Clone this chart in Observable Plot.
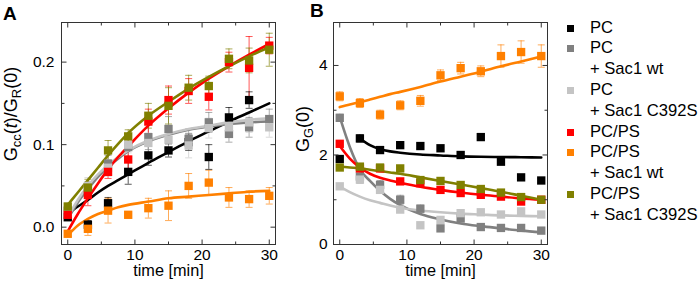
<!DOCTYPE html>
<html><head><meta charset="utf-8">
<script src="https://cdn.jsdelivr.net/npm/d3@7"></script>
<script src="https://cdn.jsdelivr.net/npm/@observablehq/plot@0.6"></script>
<style>
body{margin:0;background:#fff;}
#wrap{position:relative;width:699px;height:286px;font-family:'Liberation Sans',Arial,sans-serif;color:#000;overflow:hidden;background:#fff}
#wrap svg{position:absolute;top:0;overflow:visible}
.lbl{position:absolute;white-space:nowrap;line-height:1}
.ylab{transform:translate(-50%,-50%) rotate(-90deg);font-size:18px}
.ylab sub{font-size:72%;vertical-align:-0.3em;line-height:0}
.letter{position:absolute;font-weight:bold;font-size:19px}
#legend{position:absolute;left:566px;top:17.6px;font-size:16.6px;line-height:20.8px}
#legend .row{position:relative;padding-left:24px;height:20.8px}
#legend .sq{position:absolute;left:1px;top:7px;width:7px;height:7px}
</style></head><body><div id="wrap"></div><script>
// ---- data ----
const times = [0, 3, 6, 9, 12, 15, 18, 21, 24, 27, 30];
const fitT = [0, 1.5, 3, 4.5, 6, 7.5, 9, 12, 15, 18, 21, 24, 27, 30];
const seriesNames = ["PC", "PC + Sac1 wt", "PC + Sac1 C392S", "PC/PS", "PC/PS + Sac1 wt", "PC/PS + Sac1 C392S"];
const legendLines = [["PC"], ["PC", "+ Sac1 wt"], ["PC", "+ Sac1 C392S"], ["PC/PS"], ["PC/PS", "+ Sac1 wt"], ["PC/PS", "+ Sac1 C392S"]];
const seriesColors = ["#000000", "#808080", "#c4c4c4", "#ff0000", "#ff8000", "#808000"];

// Panel A: Gcc(t)/GR(0)
const aPC      = [0.012, 0.003, 0.029, 0.067, 0.087, 0.093, 0.103, 0.085, 0.133, 0.154, null];
const aPCwt    = [0.020, 0.045, 0.077, 0.097, 0.109, 0.119, 0.107, 0.127, 0.113, 0.121, 0.131];
const aPCmut   = [0.017, 0.050, 0.072, 0.100, 0.102, 0.106, 0.099, 0.120, 0.121, 0.127, 0.121];
const aPS      = [0.015, 0.039, 0.067, 0.082, 0.128, 0.154, 0.165, 0.158, 0.200, 0.193, 0.220];
const aPSwt    = [-0.008, -0.002, 0.020, 0.015, 0.023, 0.026, 0.050, 0.054, 0.036, 0.034, 0.038];
const aPSmut   = [0.025, 0.048, 0.093, 0.110, 0.135, 0.147, 0.169, 0.171, 0.204, 0.202, 0.215];
const aPCerr    = [0.003, 0.005, 0.007, 0.015, 0.012, 0.008, 0.010, 0.015, 0.012, 0.010, null];
const aPCwtErr  = [0.004, 0.010, 0.010, 0.012, 0.015, 0.015, 0.012, 0.012, 0.010, 0.012, 0.012];
const aPCmutErr = [0.004, 0.010, 0.010, 0.010, 0.012, 0.012, 0.015, 0.012, 0.010, 0.012, 0.012];
const aPSerr    = [0.004, 0.013, 0.008, 0.012, 0.015, 0.017, 0.015, 0.016, 0.012, 0.038, 0.010];
const aPSwtErr  = [0.003, 0.008, 0.015, 0.004, 0.012, 0.018, 0.015, 0.015, 0.012, 0.010, 0.010];
const aPSmutErr = [0.004, 0.010, 0.012, 0.008, 0.015, 0.022, 0.015, 0.012, 0.012, 0.015, 0.020];
const aFitPC    = [0.016, 0.025, 0.033, 0.042, 0.050, 0.057, 0.064, 0.078, 0.091, 0.104, 0.116, 0.128, 0.139, 0.150];
const aFitPCwt  = [0.010, 0.030, 0.046, 0.061, 0.073, 0.083, 0.092, 0.104, 0.112, 0.118, 0.122, 0.125, 0.127, 0.128];
const aFitPCmut = [0.012, 0.033, 0.050, 0.064, 0.075, 0.085, 0.093, 0.105, 0.113, 0.119, 0.123, 0.127, 0.130, 0.132];
const aFitPS    = [-0.005, 0.016, 0.035, 0.053, 0.070, 0.085, 0.098, 0.123, 0.144, 0.163, 0.180, 0.195, 0.209, 0.222];
const aFitPSwt  = [-0.010, 0.002, 0.010, 0.016, 0.020, 0.024, 0.027, 0.031, 0.035, 0.037, 0.039, 0.041, 0.043, 0.044];
const aFitPSmut = [0.027, 0.042, 0.057, 0.072, 0.087, 0.101, 0.114, 0.135, 0.152, 0.168, 0.182, 0.195, 0.207, 0.218];

// Panel B: GG(0)
const bPC      = [1.91, 2.37, 2.11, 2.22, 2.20, 2.15, 2.00, 2.40, 1.85, 1.50, 1.43];
const bPCwt    = [2.83, 1.52, 1.33, 1.00, 0.80, 0.36, 0.58, 0.39, 0.37, 0.37, 0.31];
const bPCmut   = [1.30, 1.45, 1.22, 0.78, 0.43, 0.55, 0.70, 0.72, 0.67, 0.74, 0.67];
const bPS      = [2.25, 1.70, 1.70, 1.41, 1.37, 1.22, 1.15, 1.11, 1.07, 0.96, 1.00];
const bPSwt    = [3.31, 3.16, 2.90, 3.11, 3.21, 3.78, 3.94, 3.87, 4.21, 4.30, 4.21];
const bPSmut   = [1.72, 1.74, 1.72, 1.70, 1.44, 1.42, 1.33, 1.24, 1.16, 1.06, 1.00];
const bPCerr    = [0.05, 0.08, 0.05, 0.05, 0.06, 0.05, 0.05, 0.05, 0.05, 0.04, 0.04];
const bPCwtErr  = [0.08, 0.15, 0.10, 0.10, 0.08, 0.05, 0.05, 0.04, 0.04, 0.04, 0.04];
const bPCmutErr = [0.04, 0.05, 0.05, 0.05, 0.04, 0.04, 0.04, 0.04, 0.04, 0.04, 0.04];
const bPSerr    = [0.03, 0.03, 0.03, 0.03, 0.03, 0.03, 0.03, 0.03, 0.03, 0.04, 0.03];
const bPSwtErr  = [0.10, 0.10, 0.10, 0.10, 0.12, 0.12, 0.13, 0.12, 0.25, 0.25, 0.25];
const bPSmutErr = [0.03, 0.03, 0.03, 0.03, 0.03, 0.03, 0.03, 0.03, 0.03, 0.03, 0.03];
const bFitPC    = [null, null, 2.37, 2.22, 2.13, 2.08, 2.05, 2.01, 1.99, 1.97, 1.96, 1.955, 1.95, 1.945];
const bFitPCwt  = [2.85, 2.18, 1.68, 1.42, 1.20, 1.02, 0.88, 0.68, 0.56, 0.47, 0.41, 0.36, 0.31, 0.27];
const bFitPCmut = [1.30, 1.17, 1.07, 0.99, 0.93, 0.87, 0.82, 0.76, 0.72, 0.69, 0.67, 0.65, 0.64, 0.63];
const bFitPS    = [2.20, 1.92, 1.72, 1.58, 1.49, 1.43, 1.38, 1.29, 1.22, 1.16, 1.11, 1.07, 1.03, 1.00];
const bFitPSwt  = [3.07, 3.13, 3.18, 3.24, 3.30, 3.36, 3.41, 3.52, 3.64, 3.75, 3.86, 3.98, 4.09, 4.20];
const bFitPSmut = [1.74, 1.72, 1.70, 1.67, 1.64, 1.61, 1.58, 1.50, 1.42, 1.34, 1.26, 1.18, 1.09, 1.00];

const xMajor = [0, 10, 20, 30], xMinor = [5, 15, 25];
const aYMajor = [0, 0.1, 0.2], aYMinor = [0.05, 0.15];
const bYMajor = [0, 2, 4], bYMinor = [1, 3];

// ---- helpers ----
function pts(vals, errs) {
  return vals.flatMap((v, k) => times.map((t, i) => ({s: seriesNames[k], t, v: v[i], e: errs[k][i]})).filter(d => d.v != null));
}
function fits(vals) {
  return vals.flatMap((v, k) => fitT.map((t, i) => ({s: seriesNames[k], t, v: v[i]})).filter(d => d.v != null));
}
const seg = (x1, y1, x2, y2) => ({draw(ctx) { ctx.moveTo(x1, y1); ctx.lineTo(x2, y2); }});
const cap = seg(-3.5, 0, 3.5, 0);

function ticks(maj, min, axis) {
  const o = [];
  const st = {stroke: "#333", fill: "none", strokeWidth: 1};
  for (const [vals, L] of [[maj, 5], [min, 3]]) {
    if (axis === "x") {
      o.push(Plot.dot(vals, {x: d => d, frameAnchor: "bottom", symbol: seg(0, 0, 0, -L), ...st}));
      o.push(Plot.dot(vals, {x: d => d, frameAnchor: "top", symbol: seg(0, 0, 0, L), ...st}));
    } else {
      o.push(Plot.dot(vals, {y: d => d, frameAnchor: "left", symbol: seg(0, 0, L, 0), ...st}));
      o.push(Plot.dot(vals, {y: d => d, frameAnchor: "right", symbol: seg(0, 0, -L, 0), ...st}));
    }
  }
  return o;
}

function panel({data, fit, yDomain, yMajor, yMinor, yFormat, width, marginLeft, marginRight, yPad}) {
  return Plot.plot({
    width, height: 286, marginLeft, marginRight, marginTop: 22, marginBottom: 42,
    style: {fontFamily: "'Liberation Sans', Arial, sans-serif", fontSize: "15px", color: "#000", background: "transparent", overflow: "visible"},
    x: {domain: [-0.93, 30.93]},
    y: {domain: yDomain},
    color: {domain: seriesNames, range: seriesColors},
    marks: [
      Plot.ruleX(data, {x: "t", y1: d => d.v - d.e, y2: d => d.v + d.e, stroke: "s", strokeWidth: 1, strokeOpacity: 0.65}),
      Plot.dot(data, {x: "t", y: d => d.v + d.e, symbol: cap, stroke: "s", fill: "none", strokeWidth: 1, strokeOpacity: 0.65}),
      Plot.dot(data, {x: "t", y: d => d.v - d.e, symbol: cap, stroke: "s", fill: "none", strokeWidth: 1, strokeOpacity: 0.65}),
      Plot.line(fit, {x: "t", y: "v", z: "s", stroke: "s", strokeWidth: 2.6, curve: "monotone-x"}),
      Plot.dot(data, {x: "t", y: "v", symbol: "square", fill: "s", r: 4.7}),
      Plot.frame({stroke: "#333", strokeWidth: 1}),
      ...ticks(xMajor, xMinor, "x"),
      ...ticks(yMajor, yMinor, "y"),
      Plot.axisX({ticks: xMajor, tickSize: 0, tickPadding: 4, label: null, fontSize: 15.5}),
      Plot.axisY({ticks: yMajor, tickSize: 0, tickPadding: yPad, tickFormat: yFormat, label: null, fontSize: 15.5}),
      Plot.text(["time [min]"], {frameAnchor: "bottom", dy: 31, fontSize: 16.3})
    ]
  });
}

const wrap = document.getElementById("wrap");

const chartA = panel({
  data: pts([aPC, aPCwt, aPCmut, aPS, aPSwt, aPSmut], [aPCerr, aPCwtErr, aPCmutErr, aPSerr, aPSwtErr, aPSmutErr]),
  fit: fits([aFitPC, aFitPCwt, aFitPCmut, aFitPS, aFitPSwt, aFitPSmut]),
  yDomain: [-0.021, 0.248], yMajor: aYMajor, yMinor: aYMinor, yFormat: d3.format(".1f"),
  width: 290, marginLeft: 61, marginRight: 15, yPad: 7
});
chartA.style.left = "0px";
wrap.appendChild(chartA);

const chartB = panel({
  data: pts([bPC, bPCwt, bPCmut, bPS, bPSwt, bPSmut], [bPCerr, bPCwtErr, bPCmutErr, bPSerr, bPSwtErr, bPSmutErr]),
  fit: fits([bFitPC, bFitPCwt, bFitPCmut, bFitPS, bFitPSwt, bFitPSmut]),
  yDomain: [0, 4.96], yMajor: bYMajor, yMinor: bYMinor, yFormat: d3.format("d"),
  width: 270, marginLeft: 43, marginRight: 13, yPad: 6
});
chartB.style.left = "290px";
wrap.appendChild(chartB);

// labels
function addHTML(cls, html, style) {
  const d = document.createElement("div");
  d.className = cls; d.innerHTML = html; Object.assign(d.style, style);
  wrap.appendChild(d); return d;
}
addHTML("letter", "A", {left: "3px", top: "3px"});
addHTML("letter", "B", {left: "310px", top: "0px"});
addHTML("lbl ylab", "G<sub>cc</sub>(<i>t</i>)/G<sub>R</sub>(0)", {left: "11px", top: "114px"});
addHTML("lbl ylab", "G<sub>G</sub>(0)", {left: "303px", top: "129px"});

// legend
const leg = document.createElement("div");
leg.id = "legend";
legendLines.forEach((lines, k) => {
  lines.forEach((txt, j) => {
    const r = document.createElement("div");
    r.className = "row";
    if (j === 0) {
      const sq = document.createElement("span");
      sq.className = "sq"; sq.style.background = seriesColors[k];
      r.appendChild(sq);
    }
    r.appendChild(document.createTextNode(txt));
    leg.appendChild(r);
  });
});
wrap.appendChild(leg);
</script></body></html>
